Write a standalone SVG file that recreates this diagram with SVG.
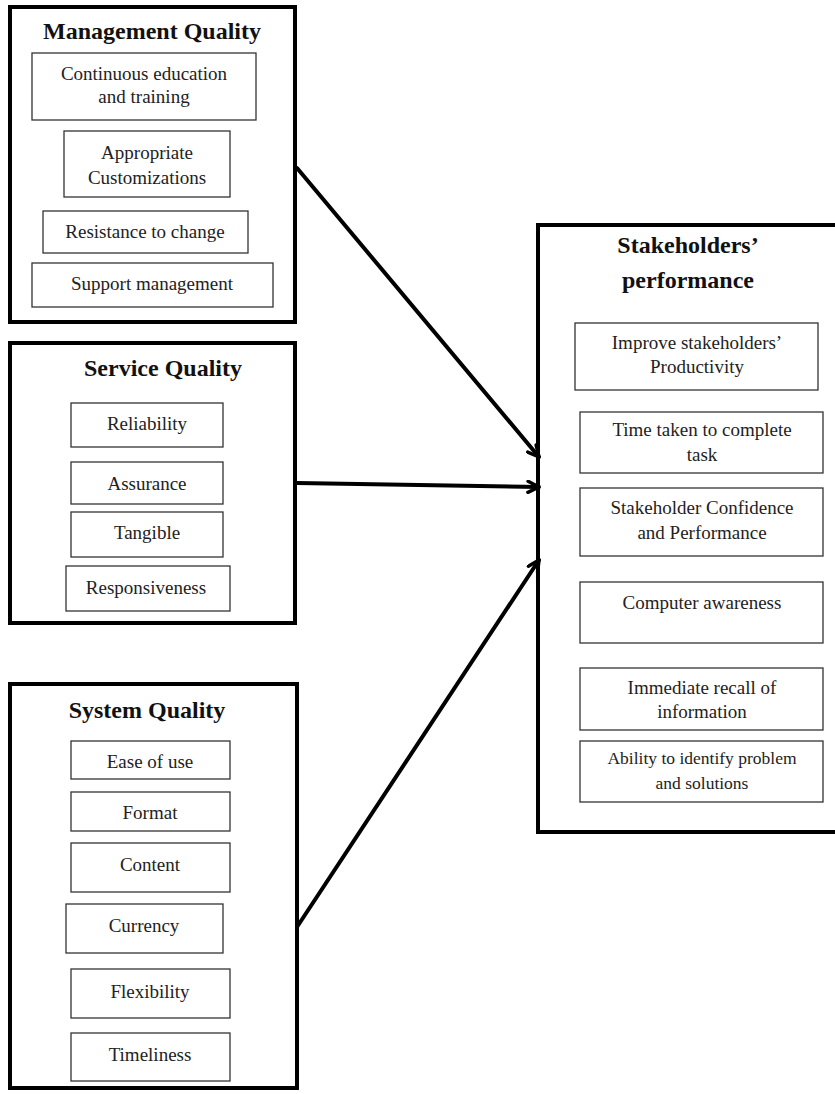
<svg xmlns="http://www.w3.org/2000/svg" width="835" height="1094" viewBox="0 0 835 1094">
<defs>
<style>
.frame{fill:#fff;stroke:#000;stroke-width:4}
.item{fill:#fff;stroke:#333;stroke-width:1.3}
.title{font-family:"Liberation Serif","Times New Roman",serif;font-weight:bold;font-size:24px;fill:#111;text-anchor:middle}
.t{font-family:"Liberation Serif","Times New Roman",serif;font-size:19px;fill:#222;text-anchor:middle}
.ts{font-family:"Liberation Serif","Times New Roman",serif;font-size:17.5px;fill:#222;text-anchor:middle}
.conn{stroke:#000;stroke-width:4;fill:none;stroke-linecap:round}
</style>
<marker id="arr" markerUnits="userSpaceOnUse" viewBox="0 0 14 14" refX="13" refY="7" markerWidth="14" markerHeight="14" orient="auto">
<path d="M2,1.5 L13,7 L2,12.5" fill="none" stroke="#000" stroke-width="3.5" stroke-linecap="round" stroke-linejoin="round"/>
</marker>
</defs>
<rect width="835" height="1094" fill="#fff"/>

<g id="management">
<rect class="frame" x="10" y="7" width="285" height="315"/>
<text class="title" x="152" y="39">Management Quality</text>
<rect class="item" x="32" y="53" width="224" height="67"/>
<text class="t" x="144" y="80">Continuous education</text>
<text class="t" x="144" y="103">and training</text>
<rect class="item" x="64" y="131" width="166" height="66"/>
<text class="t" x="147" y="159">Appropriate</text>
<text class="t" x="147" y="184">Customizations</text>
<rect class="item" x="43" y="211" width="205" height="42"/>
<text class="t" x="145" y="238">Resistance to change</text>
<rect class="item" x="32" y="263" width="241" height="44"/>
<text class="t" x="152" y="290">Support management</text>
</g>

<g id="service">
<rect class="frame" x="10" y="343" width="285" height="280"/>
<text class="title" x="163" y="376">Service Quality</text>
<rect class="item" x="71" y="403" width="152" height="44"/>
<text class="t" x="147" y="430">Reliability</text>
<rect class="item" x="71" y="462" width="152" height="42"/>
<text class="t" x="147" y="490">Assurance</text>
<rect class="item" x="71" y="512" width="152" height="45"/>
<text class="t" x="147" y="539">Tangible</text>
<rect class="item" x="66" y="566" width="164" height="45"/>
<text class="t" x="146" y="594">Responsiveness</text>
</g>

<g id="system">
<rect class="frame" x="10" y="684" width="287" height="404"/>
<text class="title" x="147" y="718">System Quality</text>
<rect class="item" x="71" y="741" width="159" height="38"/>
<text class="t" x="150" y="768">Ease of use</text>
<rect class="item" x="71" y="792" width="159" height="39"/>
<text class="t" x="150" y="819">Format</text>
<rect class="item" x="71" y="843" width="159" height="49"/>
<text class="t" x="150" y="871">Content</text>
<rect class="item" x="66" y="904" width="157" height="49"/>
<text class="t" x="144" y="932">Currency</text>
<rect class="item" x="71" y="969" width="159" height="49"/>
<text class="t" x="150" y="998">Flexibility</text>
<rect class="item" x="71" y="1033" width="159" height="48"/>
<text class="t" x="150" y="1061">Timeliness</text>
</g>

<g id="performance">
<rect class="frame" x="538" y="225" width="302" height="607"/>
<text class="title" x="688" y="253">Stakeholders’</text>
<text class="title" x="688" y="288">performance</text>
<rect class="item" x="575" y="323" width="243" height="67"/>
<text class="t" x="697" y="349">Improve stakeholders’</text>
<text class="t" x="697" y="373">Productivity</text>
<rect class="item" x="580" y="412" width="243" height="61"/>
<text class="t" x="702" y="436">Time taken to complete</text>
<text class="t" x="702" y="461">task</text>
<rect class="item" x="580" y="488" width="243" height="68"/>
<text class="t" x="702" y="514">Stakeholder Confidence</text>
<text class="t" x="702" y="539">and Performance</text>
<rect class="item" x="580" y="582" width="243" height="61"/>
<text class="t" x="702" y="609">Computer awareness</text>
<rect class="item" x="580" y="668" width="243" height="62"/>
<text class="t" x="702" y="694">Immediate recall of</text>
<text class="t" x="702" y="718">information</text>
<rect class="item" x="580" y="741" width="243" height="61"/>
<text class="ts" x="702" y="764">Ability to identify problem</text>
<text class="ts" x="702" y="789">and solutions</text>
</g>

<g id="connectors">
<line class="conn" x1="297" y1="168" x2="539" y2="457" marker-end="url(#arr)"/>
<line class="conn" x1="297" y1="483" x2="539" y2="487" marker-end="url(#arr)"/>
<line class="conn" x1="297" y1="927" x2="539" y2="560" marker-end="url(#arr)"/>
</g>
</svg>
